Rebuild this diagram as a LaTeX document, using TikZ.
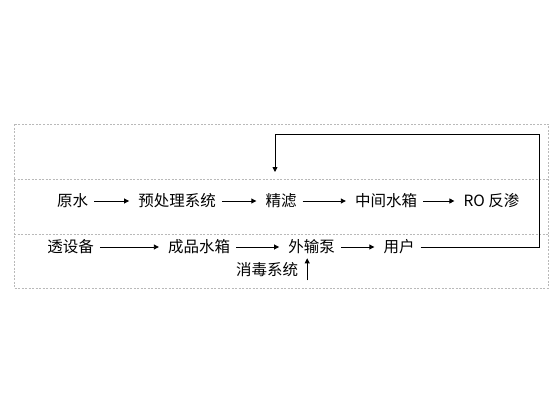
\documentclass[tikz,border=0pt]{standalone}
\usepackage{fontspec}
\setmainfont{Noto Sans CJK SC}
\usetikzlibrary{arrows.meta}

\begin{document}
\begin{tikzpicture}[x=1pt,y=-1pt,
		every node/.style={inner sep=3pt,font=\fontsize{15.5}{16}\selectfont},
		flow/.style={line width=0.9pt,-{Triangle[length=5pt,width=5pt]},shorten <=3pt,shorten >=6pt},
		zone/.style={gray!55,line width=0.8pt,dash pattern=on 2pt off 1.5pt}]
		\useasboundingbox (0,0) rectangle (560,420);
		% dashed zones
		\draw[zone] (14,124) rectangle (548,288);
		\draw[zone] (14,179) -- (548,179);
		\draw[zone] (14,234) -- (548,234);
		% first row
		\node (raw) at (72.5,201) {原水};
		\node (pre) at (177,201) {预处理系统};
		\node (fine) at (281,201) {精滤};
		\node (mid) at (386,201) {中间水箱};
		\node (ro) at (491.5,201) {RO 反渗};
		\draw[flow] (raw) -- (pre);
		\draw[flow] (pre) -- (fine);
		\draw[flow] (fine) -- (mid);
		\draw[flow] (mid) -- (ro);
		% second row
		\node (rodev) at (70.5,247) {透设备};
		\node (prod) at (199,247) {成品水箱};
		\node (pump) at (311.5,247) {外输泵};
		\node (user) at (399,247) {用户};
		\node (dis) at (267,270) {消毒系统};
		\draw[flow] (rodev) -- (prod);
		\draw[flow] (prod) -- (pump);
		\draw[flow] (pump) -- (user);
		\draw[flow,shorten <=0pt,shorten >=1pt] ([xshift=6pt]dis.south east) -- ([xshift=6pt]dis.south east |- pump.south);
		% return line
		\coordinate (back) at (539,134);
		\coordinate (fbtip) at (275,172);
		\draw[flow,shorten >=0pt] (user.east) -| (back) -| (fbtip);
\end{tikzpicture}
\end{document}
